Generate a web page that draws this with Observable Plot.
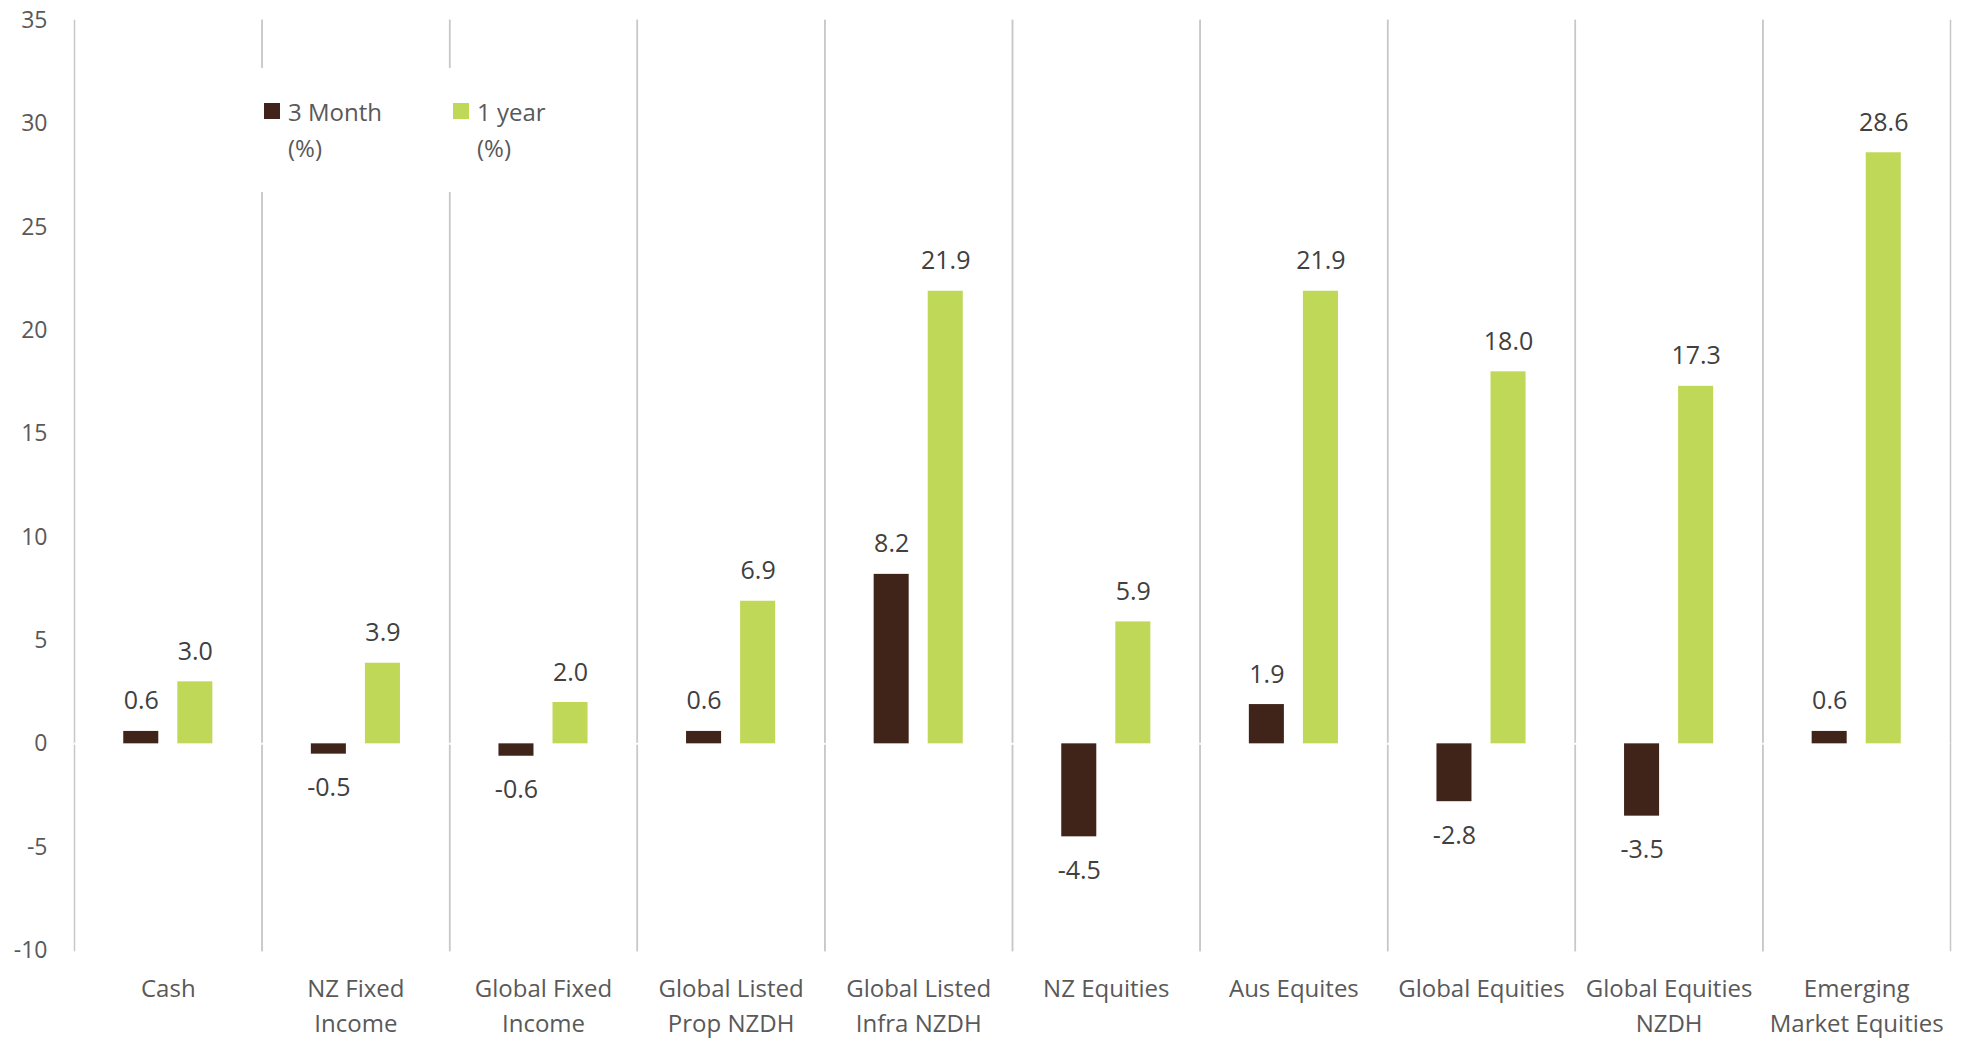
<!DOCTYPE html>
<html>
<head>
<meta charset="utf-8">
<script src="https://cdn.jsdelivr.net/npm/d3@7"></script>
<script src="https://cdn.jsdelivr.net/npm/@observablehq/plot@0.6"></script>
<style>
  html, body { margin: 0; padding: 0; background: #fff; }
  #wrap { position: relative; width: 1962px; height: 1041px; font-family: "Open Sans", sans-serif; }
  #legend { position: absolute; left: 252px; top: 68px; width: 300px; height: 124px; background: #fff; }
  .item { position: absolute; top: 26px; display: flex; align-items: flex-start; color: #595959; font-size: 24px; line-height: 36px; }
  .sw { width: 16px; height: 16px; margin-top: 9px; margin-right: 8px; flex: none; }
</style>
</head>
<body>
<div id="wrap"></div>
<script>
const categories = ["Cash", "NZ Fixed Income", "Global Fixed Income", "Global Listed Prop NZDH", "Global Listed Infra NZDH", "NZ Equities", "Aus Equites", "Global Equities", "Global Equities NZDH", "Emerging Market Equities"];
const tickLabels = ["Cash", "NZ Fixed\nIncome", "Global Fixed\nIncome", "Global Listed\nProp NZDH", "Global Listed\nInfra NZDH", "NZ Equities", "Aus Equites", "Global Equities", "Global Equities\nNZDH", "Emerging\nMarket Equities"];
const seriesNames = ["3 Month (%)", "1 year (%)"];
const legendLabels = [["3 Month", "(%)"], ["1 year", "(%)"]];
const seriesColors = ["#40241a", "#bfd857"];
const threeMonth = [0.6, -0.5, -0.6, 0.6, 8.2, -4.5, 1.9, -2.8, -3.5, 0.6];
const oneYear = [3.0, 3.9, 2.0, 6.9, 21.9, 5.9, 21.9, 18.0, 17.3, 28.6];
const yTicks = [-10, -5, 0, 5, 10, 15, 20, 25, 30, 35];

const data = categories.flatMap((c, i) => [
  {category: c, series: seriesNames[0], value: threeMonth[i]},
  {category: c, series: seriesNames[1], value: oneYear[i]}
]);

const chart = Plot.plot({
  width: 1962,
  height: 1041,
  marginTop: 20,
  marginBottom: 91,
  marginLeft: 74,
  marginRight: 12,
  style: {fontFamily: "Open Sans, sans-serif", background: "white", overflow: "visible"},
  fx: {domain: categories, padding: 0, round: false, label: null},
  x: {domain: seriesNames, paddingInner: 0.352, paddingOuter: 0.911, round: false, axis: null},
  y: {domain: [-10, 35], label: null},
  color: {domain: seriesNames, range: seriesColors},
  marks: [
    Plot.frame({anchor: "left", stroke: "#c8c8c8", strokeWidth: 1.5}),
    Plot.frame({anchor: "right", stroke: "#c8c8c8", strokeWidth: 1.5}),
    Plot.ruleY([0], {stroke: "white", strokeWidth: 2}),
    Plot.barY(data, {fx: "category", x: "series", y: "value", fill: "series"}),
    Plot.text(data.filter(d => d.value >= 0), {fx: "category", x: "series", y: "value", text: d => d.value.toFixed(1), dy: -30, fontSize: 25, fill: "#404040"}),
    Plot.text(data.filter(d => d.value < 0), {fx: "category", x: "series", y: "value", text: d => d.value.toFixed(1), dy: 34, fontSize: 25, fill: "#404040"}),
    Plot.axisY({ticks: yTicks, tickFormat: d => String(d), tickSize: 0, tickPadding: 27, fontSize: 23, fill: "#595959", label: null}),
    Plot.axisFx({anchor: "bottom", tickSize: 0, tickPadding: 22, tickFormat: c => tickLabels[categories.indexOf(c)], fontSize: 24, lineHeight: 1.45, fill: "#595959", label: null})
  ]
});

const wrap = document.getElementById("wrap");
wrap.appendChild(chart);

const legend = document.createElement("div");
legend.id = "legend";
const offsets = [12, 201];
seriesNames.forEach((s, i) => {
  const item = document.createElement("div");
  item.className = "item";
  item.style.left = offsets[i] + "px";
  const sw = document.createElement("div");
  sw.className = "sw";
  sw.style.background = seriesColors[i];
  const tx = document.createElement("div");
  tx.innerHTML = legendLabels[i].join("<br>");
  item.appendChild(sw);
  item.appendChild(tx);
  legend.appendChild(item);
});
wrap.appendChild(legend);
</script>
</body>
</html>
